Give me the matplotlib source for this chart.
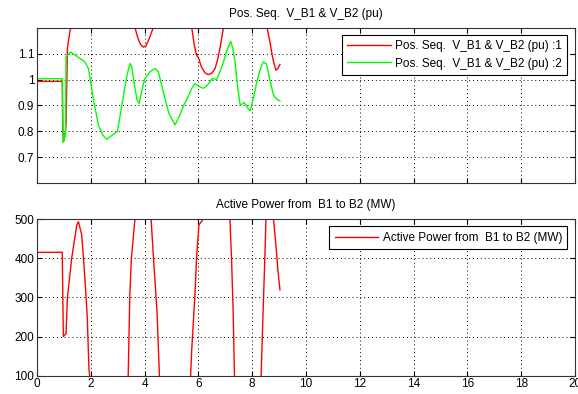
import matplotlib
matplotlib.use("Agg")
import matplotlib.pyplot as plt

plt.rcParams['font.family'] = ['Liberation Sans', 'DejaVu Sans']

# Positive-sequence voltage at bus B1 (pu)
t_vb1 = [0, 0.94, 0.96, 0.98, 1.03, 1.08, 1.13, 1.23, 2.40, 3.64, 3.75, 3.85,
         3.95, 4.05, 4.18, 4.32, 5.00, 5.75, 5.85, 5.93, 6.00, 6.11, 6.25, 6.37,
         6.50, 6.62, 6.72, 6.80, 6.93, 7.80, 8.55, 8.65, 8.72, 8.80, 8.88, 8.95, 9.03]
v_b1 = [0.993, 0.993, 0.80, 0.76, 0.78, 0.825, 1.12, 1.19, 1.45, 1.20, 1.16, 1.135,
        1.125, 1.13, 1.16, 1.20, 1.40, 1.20, 1.13, 1.093, 1.085, 1.049, 1.025, 1.019,
        1.025, 1.043, 1.08, 1.12, 1.20, 1.45, 1.20, 1.15, 1.106, 1.065, 1.036, 1.042, 1.058]

# Positive-sequence voltage at bus B2 (pu)
t_vb2 = [0, 0.94, 0.96, 0.98, 1.01, 1.03, 1.06, 1.08, 1.15, 1.25, 1.40, 1.60, 1.78,
         1.91, 2.09, 2.28, 2.45, 2.59, 2.99, 3.20, 3.35, 3.46, 3.52, 3.62, 3.72, 3.80,
         3.90, 4.01, 4.20, 4.39, 4.51, 4.70, 4.90, 5.13, 5.30, 5.45, 5.62, 5.75, 5.87,
         6.00, 6.18, 6.30, 6.43, 6.50, 6.68, 6.80, 6.93, 7.05, 7.20, 7.28, 7.36, 7.45,
         7.55, 7.62, 7.70, 7.80, 7.92, 8.05, 8.17, 8.30, 8.41, 8.53, 8.65, 8.79, 8.90, 9.03]
v_b2 = [1.003, 1.003, 0.85, 0.757, 0.77, 0.79, 0.78, 1.087, 1.095, 1.106, 1.095, 1.081,
        1.068, 1.043, 0.928, 0.825, 0.785, 0.770, 0.800, 0.930, 1.020, 1.062, 1.050,
        0.980, 0.920, 0.908, 0.960, 1.004, 1.030, 1.043, 1.030, 0.950, 0.870, 0.825,
        0.860, 0.900, 0.934, 0.965, 0.985, 0.975, 0.966, 0.975, 0.990, 1.004, 1.000,
        1.030, 1.068, 1.110, 1.147, 1.120, 1.068, 0.980, 0.902, 0.905, 0.912, 0.895,
        0.879, 0.930, 0.991, 1.040, 1.068, 1.060, 1.000, 0.940, 0.925, 0.917]

# Active power flow from B1 to B2 (MW)
t_p = [0, 0.94, 0.96, 0.98, 1.04, 1.08, 1.13, 1.29, 1.48, 1.54, 1.66, 1.73, 1.82,
       1.87, 1.93, 1.97, 2.60, 3.39, 3.45, 3.51, 3.64, 3.90, 4.24, 4.33, 4.46, 4.55,
       5.10, 5.71, 5.75, 5.87, 5.93, 6.02, 6.15, 6.25, 6.70, 7.17, 7.23, 7.29, 7.34,
       7.80, 8.33, 8.38, 8.46, 8.51, 8.65, 8.79, 8.89, 8.96, 9.03]
p_b1b2 = [415, 415, 300, 200, 205, 207, 298, 400, 485, 493, 460, 399, 306,
          247, 119, 90, -400, 100, 306, 400, 500, 900, 500, 400, 265, 100,
          -400, 100, 165, 306, 400, 485, 497, 510, 900, 500, 400, 265, 100,
          -400, 100, 213, 383, 500, 900, 500, 425, 365, 319]

x_ticks = list(range(0, 21, 2))
v_ticks = [0.7, 0.8, 0.9, 1.0, 1.1]
v_ticklabels = ['0.7', '0.8', '0.9', '1', '1.1']
p_ticks = [100, 200, 300, 400, 500]

FS = 8.5
fig = plt.figure(figsize=(5.78, 3.94), dpi=100)
ax1 = fig.add_axes([0.064, 0.5348, 0.931, 0.395])
ax2 = fig.add_axes([0.064, 0.0464, 0.931, 0.3977])


def style(ax):
    ax.set_xlim(0, 20)
    ax.set_xticks(x_ticks)
    ax.grid(True, color='k', linestyle=(0, (1, 3)), linewidth=0.7)
    ax.tick_params(direction='in', length=3.5, width=0.8, top=True, right=True,
                   labelsize=FS, pad=2, colors='k')
    for s in ax.spines.values():
        s.set_linewidth(0.8)
        s.set_color('#333333')


def add_legend(ax, spacing):
    leg = ax.legend(loc='upper right', bbox_to_anchor=(0.9857, 0.953), borderaxespad=0,
                    fontsize=FS, fancybox=False, edgecolor='k', framealpha=1,
                    handlelength=3.7, handletextpad=0.35, labelspacing=spacing,
                    borderpad=0.45)
    leg.get_frame().set_linewidth(0.8)
    return leg


ax1.plot(t_vb1, v_b1, color='#ff0000', lw=1.0, label='Pos. Seq.  V_B1 & V_B2 (pu) :1')
ax1.plot(t_vb2, v_b2, color='#00ff00', lw=1.0, label='Pos. Seq.  V_B1 & V_B2 (pu) :2')
style(ax1)
ax1.set_ylim(0.6, 1.2)
ax1.set_yticks(v_ticks)
ax1.set_yticklabels(v_ticklabels)
ax1.set_xticklabels([])
ax1.set_title('Pos. Seq.  V_B1 & V_B2 (pu)', fontsize=FS, pad=8)
add_legend(ax1, 0.45)

ax2.plot(t_p, p_b1b2, color='#ff0000', lw=1.0, label='Active Power from  B1 to B2 (MW)')
style(ax2)
ax2.set_ylim(100, 500)
ax2.set_yticks(p_ticks)
ax2.set_title('Active Power from  B1 to B2 (MW)', fontsize=FS, pad=8)
add_legend(ax2, 0.45)

fig.savefig('out.png', dpi=100, facecolor='white')
